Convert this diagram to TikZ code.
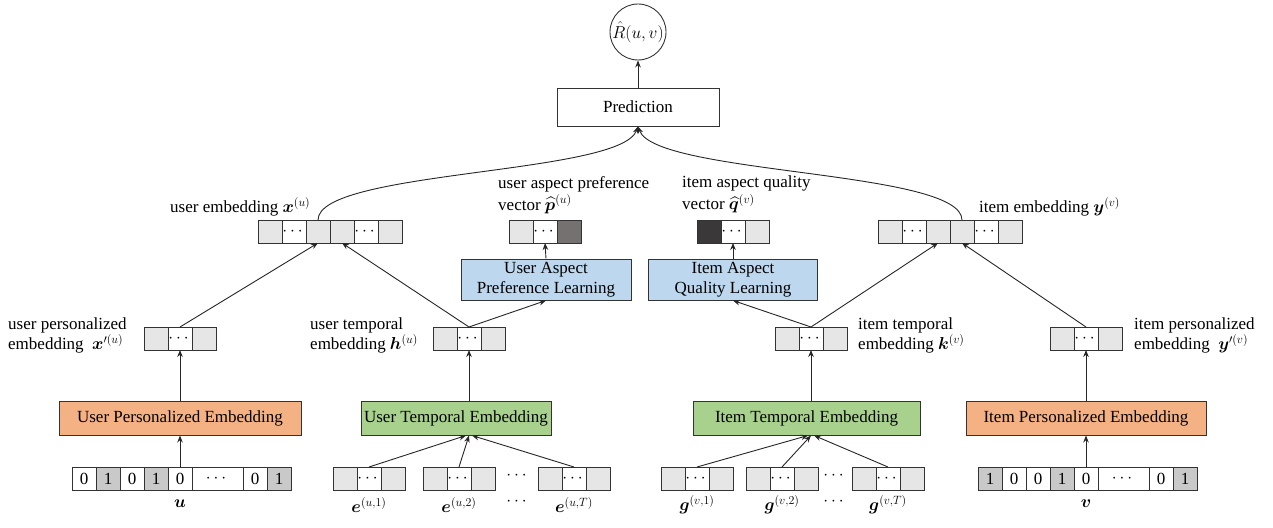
\documentclass[tikz,border=0pt]{standalone}
\usepackage{fontspec}
\setmainfont{Liberation Serif}
\usepackage{amsmath}
\usepackage{bm}
\usetikzlibrary{arrows.meta,positioning}
\DeclareMathSizes{17}{17}{12.5}{10}

\definecolor{cellgray}{HTML}{E6E6E6}
\definecolor{hotgray}{HTML}{C9C9C9}
\definecolor{prefgray}{HTML}{767171}
\definecolor{qualgray}{HTML}{3A3838}
\definecolor{persorange}{HTML}{F4B183}
\definecolor{tempgreen}{HTML}{A9D18E}
\definecolor{aspblue}{HTML}{BDD7EE}

\tikzset{
  every node/.style={font=\fontsize{17}{20}\selectfont},
  cell/.style={draw=black!80, line width=0.9pt, minimum width=24pt, minimum height=23pt, inner sep=0pt, outer sep=0pt, fill=cellgray},
  block/.style={draw=black!80, line width=1pt, minimum height=34pt, inner sep=0pt},
  conn/.style={-{Stealth[length=7pt,width=5.5pt]}, line width=0.9pt, black!85},
  lbl/.style={anchor=north west, inner sep=0pt, align=left},
}

\begin{document}
\begin{tikzpicture}[x=1pt,y=1pt,yscale=-1,xscale=1]
\path[use as bounding box] (0,0) rectangle (1273,527);

% Output and prediction
    \node[draw=black!80, circle, line width=0.9pt, minimum size=56pt, inner sep=0pt] (rhat) at (638,32) {$\hat{R}(u,v)$};
    \node[block, minimum width=162pt, minimum height=38pt] (pred) at (638,107) {Prediction};

% Embedding vectors x^(u) and y^(v)
    \foreach \i/\f/\t in {1/cellgray/{},2/white/$\cdots$,3/cellgray/{},4/cellgray/{},5/white/$\cdots$,6/cellgray/{}}
      \node[cell, fill=\f] (xu\i) at ({246+24*\i},231.5) {\t};
    \foreach \i/\f/\t in {1/cellgray/{},2/white/$\cdots$,3/cellgray/{},4/cellgray/{},5/white/$\cdots$,6/cellgray/{}}
      \node[cell, fill=\f] (ye\i) at ({866+24*\i},231.5) {\t};

% Aspect vectors
    \foreach \i/\f/\t in {1/cellgray/{},2/white/$\cdots$,3/prefgray/{}}
      \node[cell, fill=\f] (p\i) at ({497+24*\i},231.5) {\t};
    \foreach \i/\f/\t in {1/qualgray/{},2/white/$\cdots$,3/cellgray/{}}
      \node[cell, fill=\f] (q\i) at ({685+24*\i},231.5) {\t};

% Aspect learning
    \node[block, fill=aspblue, minimum width=170pt, minimum height=41pt, align=center] (uasp) at (546,279.5) {User Aspect\\Preference Learning};
    \node[block, fill=aspblue, minimum width=169pt, minimum height=41pt, align=center] (iasp) at (733,279.5) {Item Aspect\\Quality Learning};

% Personalized and temporal embedding vectors
    \foreach \i/\f/\t in {1/cellgray/{},2/white/$\cdots$,3/cellgray/{}} {
      \node[cell, fill=\f] (xp\i) at ({132+24*\i},338.5) {\t};
      \node[cell, fill=\f] (h\i) at ({421+24*\i},338.5) {\t};
      \node[cell, fill=\f] (k\i) at ({763+24*\i},338.5) {\t};
      \node[cell, fill=\f] (yp\i) at ({1038+24*\i},338.5) {\t};
    }

% Embedding layers
    \node[block, fill=persorange, minimum width=242pt] (upers) at (180,418) {User Personalized Embedding};
    \node[block, fill=tempgreen, minimum width=190pt] (utemp) at (456,418) {User Temporal Embedding};
    \node[block, fill=tempgreen, minimum width=227pt] (itemp) at (806.5,418) {Item Temporal Embedding};
    \node[block, fill=persorange, minimum width=240pt] (ipers) at (1086,418) {Item Personalized Embedding};

% One-hot user vector
    \node[cell, fill=white] (u1) at (84,478.5) {0};
    \node[cell, fill=hotgray, right=0pt of u1] (u2) {1};
    \node[cell, fill=white, right=0pt of u2] (u3) {0};
    \node[cell, fill=hotgray, right=0pt of u3] (u4) {1};
    \node[cell, fill=white, right=0pt of u4] (u5) {0};
    \node[cell, fill=white, minimum width=51pt, right=0pt of u5] (u6) {$\cdots$};
    \node[cell, fill=white, right=0pt of u6] (u7) {0};
    \node[cell, fill=hotgray, right=0pt of u7] (u8) {1};
% One-hot item vector
    \node[cell, fill=hotgray] (v1) at (990,478.5) {1};
    \node[cell, fill=white, right=0pt of v1] (v2) {0};
    \node[cell, fill=white, right=0pt of v2] (v3) {0};
    \node[cell, fill=hotgray, right=0pt of v3] (v4) {1};
    \node[cell, fill=white, right=0pt of v4] (v5) {0};
    \node[cell, fill=white, minimum width=51pt, right=0pt of v5] (v6) {$\cdots$};
    \node[cell, fill=white, right=0pt of v6] (v7) {0};
    \node[cell, fill=hotgray, right=0pt of v7] (v8) {1};

% Time step vectors
    \foreach \i/\f/\t in {1/cellgray/{},2/white/$\cdots$,3/cellgray/{}} {
      \node[cell, fill=\f] (ea\i) at ({321+24*\i},478.5) {\t};
      \node[cell, fill=\f] (eb\i) at ({411+24*\i},478.5) {\t};
      \node[cell, fill=\f] (et\i) at ({526+24*\i},478.5) {\t};
      \node[cell, fill=\f] (ga\i) at ({649+24*\i},478.5) {\t};
      \node[cell, fill=\f] (gb\i) at ({734+24*\i},478.5) {\t};
      \node[cell, fill=\f] (gt\i) at ({840+24*\i},478.5) {\t};
    }
    \node (edots) at (518,476) {$\cdots$};
    \node (gdots) at (835,476) {$\cdots$};

% Bottom labels
    \node (lu) at (180,504) {$\bm{u}$};
    \node (lv) at (1086,504) {$\bm{v}$};
    \node (lea) at (369,505) {$\bm{e}^{(u,1)}$};
    \node (leb) at (459,505) {$\bm{e}^{(u,2)}$};
    \node (ledots) at (518,502) {$\cdots$};
    \node (let) at (574,505) {$\bm{e}^{(u,T)}$};
    \node (lga) at (697,505) {$\bm{g}^{(v,1)}$};
    \node (lgb) at (782,505) {$\bm{g}^{(v,2)}$};
    \node (lgdots) at (835,502) {$\cdots$};
    \node (lgt) at (888,505) {$\bm{g}^{(v,T)}$};

% Vector labels
    \node[lbl] (lxu) at (170,197) {user embedding $\bm{x}^{(u)}$};
    \node[lbl] (lye) at (979,197) {item embedding $\bm{y}^{(v)}$};
    \node[lbl, font=\fontsize{17}{22}\selectfont] (lp) at (498,176) {user aspect preference\\vector $\widehat{\bm{p}}^{(u)}$};
    \node[lbl, font=\fontsize{17}{22}\selectfont] (lq) at (682,176) {item aspect quality\\vector $\widehat{\bm{q}}^{(v)}$};
    \node[lbl] (lxp) at (8,318) {user personalized\\embedding~~$\bm{x}'^{(u)}$};
    \node[lbl] (lh) at (310,318) {user temporal\\embedding $\bm{h}^{(u)}$};
    \node[lbl] (lk) at (858,318) {item temporal\\embedding $\bm{k}^{(v)}$};
    \node[lbl] (lyp) at (1134,318) {item personalized\\embedding~~$\bm{y}'^{(v)}$};

% Connectors
    \draw[conn] (pred) -- (rhat);
    \draw[conn] (xu3.north) .. controls (318,170) and (620,175) .. (pred.south);
    \draw[conn] (ye4.north) .. controls (962,170) and (656,175) .. (pred.south);
    \draw[conn] (xp2.north) -- (xu3.south);
    \draw[conn] (h2.north) -- (xu4.south);
    \draw[conn] (h2.north) -- (uasp.south);
    \draw[conn] (uasp.north) -- (p2.south);
    \draw[conn] (iasp.north) -- (q2.south);
    \draw[conn] (k2.north) -- (iasp.south);
    \draw[conn] (k2.north) -- (ye3.south);
    \draw[conn] (yp2.north) -- (ye4.south);
    \draw[conn] (upers.north -| xp2) -- (xp2.south);
    \draw[conn] (utemp.north -| h2) -- (h2.south);
    \draw[conn] (itemp.north -| k2) -- (k2.south);
    \draw[conn] (ipers.north -| yp2) -- (yp2.south);
    \draw[conn] (u5.north) -- (upers.south -| u5);
    \draw[conn] (v5.north) -- (ipers.south -| v5);
    \draw[conn] (ea2.north) -- ([xshift=-3pt]utemp.south -| h2);
    \draw[conn] (eb2.north) -- (utemp.south -| h2);
    \draw[conn] (et2.north) -- ([xshift=3pt]utemp.south -| h2);
    \draw[conn] (ga2.north) -- ([xshift=-3pt]itemp.south -| k2);
    \draw[conn] (gb2.north) -- (itemp.south -| k2);
    \draw[conn] (gt2.north) -- ([xshift=3pt]itemp.south -| k2);

\end{tikzpicture}
\end{document}
